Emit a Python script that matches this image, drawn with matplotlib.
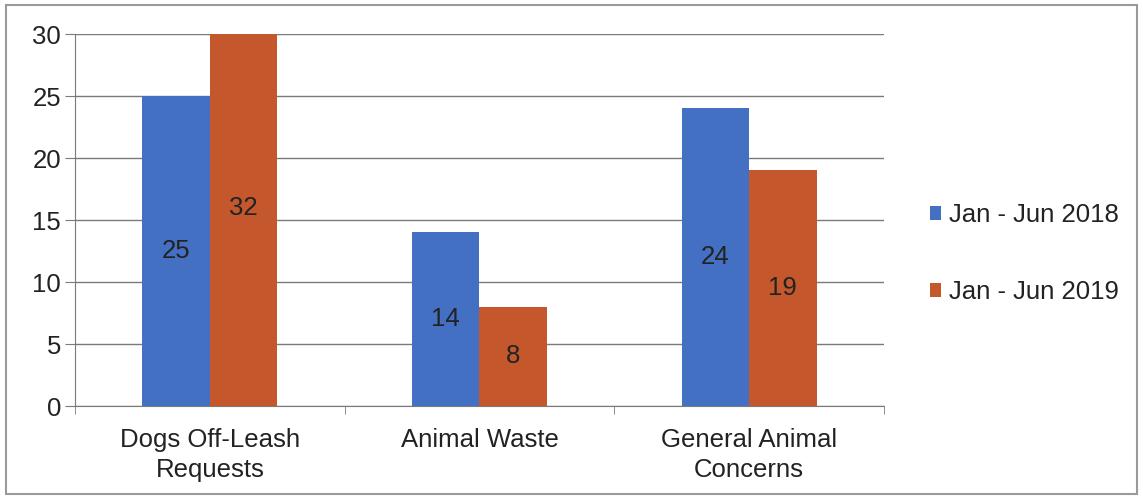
import matplotlib.pyplot as plt
import numpy as np
from matplotlib.patches import Rectangle

categories = ["Dogs Off-Leash\nRequests", "Animal Waste", "General Animal\nConcerns"]
series_names = ["Jan - Jun 2018", "Jan - Jun 2019"]
values_2018 = [25, 14, 24]
values_2019 = [32, 8, 19]
colors = ["#4470C4", "#C4582C"]

plt.rcParams['font.family'] = ['Liberation Sans', 'DejaVu Sans']
fs = 18.5

fig = plt.figure(figsize=(11.43, 4.99), dpi=100)
ax = fig.add_axes([75 / 1143, 93 / 499, 809 / 1143, 372 / 499])

x = np.arange(len(categories))
w = 0.25
ax.bar(x - w / 2, values_2018, w, color=colors[0], label=series_names[0], zorder=3)
ax.bar(x + w / 2, values_2019, w, color=colors[1], label=series_names[1], zorder=3)

# labels sit at half the value, even for the clipped bar
for xi, v in zip(x, values_2018):
    ax.text(xi - w / 2, v / 2, str(v), ha="center", va="center", fontsize=fs, color="#222222", zorder=4)
for xi, v in zip(x, values_2019):
    ax.text(xi + w / 2, v / 2, str(v), ha="center", va="center", fontsize=fs, color="#222222", zorder=4)

ax.set_xlim(-0.5, len(categories) - 0.5)
ax.set_ylim(0, 30)
ax.set_yticks(range(0, 31, 5))
ax.yaxis.grid(True, color="#7a7a7a", linewidth=1, zorder=0)
ax.set_axisbelow(True)

ax.set_xticks(x)
ax.set_xticklabels(categories, fontsize=fs, color="#222222", linespacing=1.3)
ax.tick_params(axis="x", length=0, pad=16)
ax.set_xticks(np.arange(-0.5, len(categories)), minor=True)
ax.tick_params(axis="x", which="minor", length=6, color="#7a7a7a")
ax.tick_params(axis="y", length=7, color="#7a7a7a", labelsize=fs, labelcolor="#222222", pad=3)

for s in ["top", "right"]:
    ax.spines[s].set_visible(False)
for s in ["left", "bottom"]:
    ax.spines[s].set_color("#7a7a7a")

ax.legend(loc="center left", bbox_to_anchor=(1.028, 0.41), frameon=False, fontsize=fs,
          handlelength=0.45, handleheight=0.45, handletextpad=0.3, labelspacing=2.05,
          labelcolor="#222222")

fig.patches.append(Rectangle((6 / 1143, 5 / 499), 1131 / 1143, 489 / 499, transform=fig.transFigure,
                             fill=False, edgecolor="#9a9a9a", linewidth=1.5))

fig.savefig("out.png", dpi=100)
